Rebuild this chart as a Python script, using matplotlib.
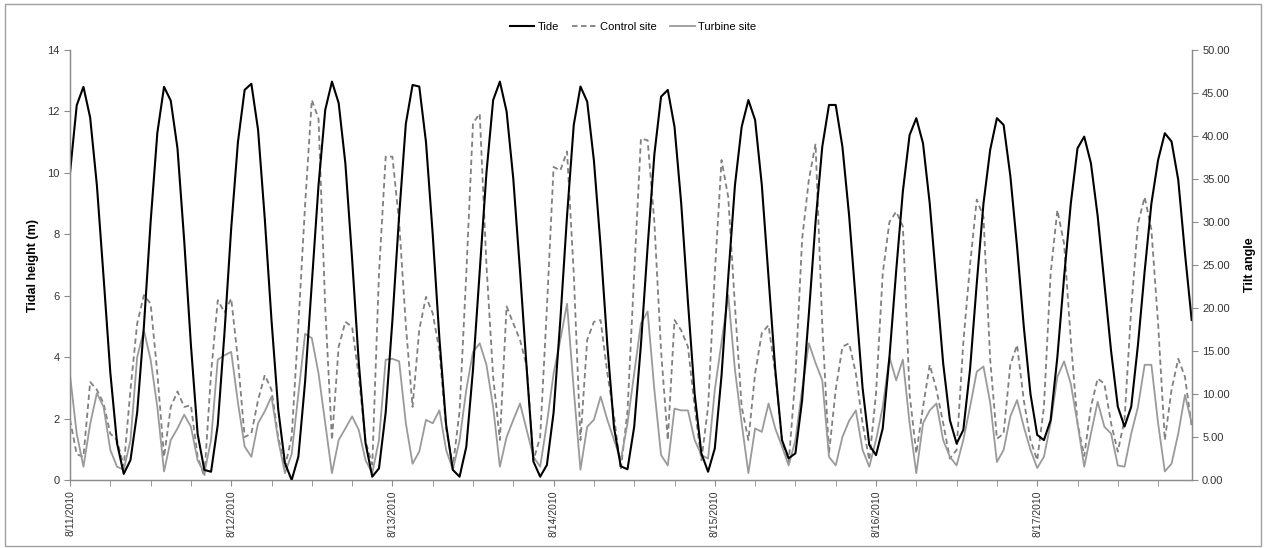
import matplotlib
matplotlib.use("Agg")
import matplotlib.pyplot as plt
from matplotlib.patches import Rectangle
import numpy as np

# hourly readings starting 8/11/2010 00:00
tide = [10.0, 12.2, 12.8, 11.8, 9.6, 6.6, 3.5, 1.2, 0.2, 0.65,
        2.2, 5.0, 8.4, 11.3, 12.8, 12.35, 10.8, 7.8, 4.4, 1.5,
        0.33, 0.27, 1.8, 4.8, 8.2, 11.0, 12.7, 12.9, 11.4, 8.5,
        5.2, 2.3, 0.55, 0.0, 0.76, 3.2, 6.4, 9.6, 12.05, 12.97,
        12.27, 10.3, 7.2, 3.8, 1.2, 0.11, 0.38, 2.2, 5.2, 8.6,
        11.6, 12.86, 12.81, 11.0, 8.0, 4.6, 1.8, 0.33, 0.11, 1.08,
        3.6, 6.8, 10.0, 12.37, 12.97, 12.0, 9.8, 6.8, 3.6, 0.6,
        0.11, 0.49, 2.2, 5.2, 8.6, 11.56, 12.81, 12.32, 10.4, 7.6,
        4.4, 1.7, 0.45, 0.35, 1.74, 4.4, 7.6, 10.6, 12.48, 12.7,
        11.5, 9.0, 5.8, 2.8, 0.87, 0.27, 1.03, 3.4, 6.6, 9.6,
        11.5, 12.37, 11.72, 9.6, 6.6, 3.6, 1.3, 0.71, 0.87, 2.6,
        5.4, 8.4, 10.85, 12.21, 12.21, 10.85, 8.6, 5.8, 3.0, 1.14,
        0.81, 1.68, 4.0, 6.8, 9.4, 11.23, 11.78, 10.96, 9.0, 6.4,
        3.8, 1.95, 1.19, 1.63, 3.6, 6.4, 9.0, 10.75, 11.78, 11.56,
        9.9, 7.6, 5.0, 2.8, 1.47, 1.30, 1.95, 4.0, 6.6, 9.0,
        10.8, 11.18, 10.31, 8.6, 6.4, 4.2, 2.39, 1.74, 2.39, 4.4,
        6.8, 9.0, 10.42, 11.29, 11.02, 9.77, 7.38, 5.21]

control = [7.0, 3.0, 2.7, 11.4, 10.5, 8.9, 5.4, 4.65, 1.55, 10.5,
           18.2, 21.5, 20.5, 12.4, 2.7, 8.5, 10.3, 8.5, 8.7, 2.7,
           0.4, 12.4, 20.9, 19.5, 21.1, 14.0, 5.0, 5.4, 9.3, 12.2,
           10.5, 5.0, 1.5, 5.0, 18.0, 32.0, 44.2, 42.0, 20.0, 4.65,
           15.5, 18.4, 17.8, 12.0, 4.5, 1.8, 24.0, 37.6, 37.6, 30.0,
           18.0, 8.5, 17.5, 21.3, 19.4, 15.0, 6.0, 1.55, 8.0, 24.0,
           41.5, 42.6, 25.0, 12.0, 4.65, 20.2, 18.2, 16.3, 13.2, 2.3,
           5.0, 20.0, 36.4, 36.0, 38.2, 24.0, 4.65, 16.3, 18.4, 18.6,
           12.4, 7.4, 1.2, 8.0, 24.0, 39.7, 39.5, 30.0, 15.0, 4.65,
           18.6, 17.4, 15.5, 8.5, 2.3, 8.5, 24.0, 37.2, 32.9, 20.2,
           8.5, 4.65, 12.4, 17.1, 18.0, 12.4, 4.65, 2.0, 12.0, 28.0,
           34.9, 39.1, 18.0, 3.1, 10.5, 15.5, 15.9, 12.4, 6.6, 2.3,
           10.0, 24.0, 30.0, 31.2, 29.5, 10.0, 3.1, 8.5, 13.4, 10.5,
           6.6, 2.5, 3.5, 16.0, 25.0, 32.6, 30.6, 14.0, 4.8, 5.4,
           13.4, 15.7, 9.3, 4.65, 2.3, 8.5, 24.0, 31.4, 27.5, 16.3,
           6.6, 2.8, 8.5, 11.8, 11.2, 6.6, 3.3, 7.0, 20.0, 29.8,
           32.9, 29.1, 18.2, 4.65, 10.5, 14.1, 12.0, 6.2]

turbine = [12.2, 5.4, 1.55, 6.5, 10.1, 8.5, 3.5, 1.55, 1.2, 4.6,
           14.3, 17.4, 14.0, 8.5, 1.0, 4.65, 6.0, 7.6, 6.2, 2.3,
           0.8, 4.65, 14.0, 14.5, 14.9, 9.0, 3.9, 2.7, 6.6, 8.0,
           9.7, 4.65, 0.8, 3.0, 10.0, 17.0, 16.5, 12.4, 6.6, 0.8,
           4.65, 6.0, 7.4, 5.8, 2.3, 0.8, 4.65, 14.0, 14.1, 13.8,
           6.6, 1.9, 3.3, 7.0, 6.6, 8.1, 3.5, 1.2, 4.6, 10.5,
           14.9, 15.9, 13.4, 8.5, 1.55, 5.0, 7.0, 8.9, 5.8, 2.7,
           1.55, 6.6, 12.4, 16.3, 20.5, 10.5, 1.2, 6.2, 7.0, 9.7,
           7.0, 4.65, 2.3, 6.6, 12.4, 18.2, 19.6, 10.5, 2.9, 1.7,
           8.3, 8.1, 8.1, 4.65, 2.9, 2.5, 10.5, 16.0, 21.5, 12.8,
           6.6, 0.8, 6.0, 5.6, 8.9, 6.0, 3.9, 1.7, 4.65, 10.5,
           15.9, 13.6, 11.6, 2.7, 1.7, 5.0, 6.9, 8.1, 3.5, 1.55,
           4.65, 8.5, 14.3, 11.6, 14.0, 6.6, 0.8, 6.6, 8.1, 8.9,
           4.65, 2.7, 1.7, 4.65, 8.5, 12.6, 13.2, 9.0, 2.1, 3.5,
           7.4, 9.3, 6.2, 3.5, 1.4, 2.7, 6.6, 12.0, 13.8, 11.2,
           6.6, 1.55, 5.4, 9.1, 6.2, 5.4, 1.7, 1.55, 5.4, 8.5,
           13.4, 13.4, 6.6, 1.0, 1.9, 5.4, 9.9, 6.6]

date_labels = ["8/11/2010", "8/12/2010", "8/13/2010", "8/14/2010",
               "8/15/2010", "8/16/2010", "8/17/2010"]

plt.rcParams['font.family'] = ['Liberation Sans', 'DejaVu Sans']

hours = np.arange(len(tide))

fig = plt.figure(figsize=(12.66, 5.48), dpi=100)
ax = fig.add_axes([0.0553, 0.124, 0.886, 0.7848])
ax2 = ax.twinx()

axis_grey = "#8c8c8c"

l_ctrl, = ax2.plot(hours, control, color="#808080", lw=1.3,
                   linestyle=(0, (3, 2)), label="Control site")
l_turb, = ax2.plot(hours, turbine, color="#9a9a9a", lw=1.3,
                   label="Turbine site")
ax.set_zorder(ax2.get_zorder() + 1)
ax.patch.set_visible(False)
l_tide, = ax.plot(hours, tide, color="black", lw=1.5, label="Tide")

ax.set_xlim(0, len(tide) - 1)
ax.set_ylim(0, 14)
ax.set_yticks(np.arange(0, 15, 2))
ax2.set_ylim(0, 50)
ax2.set_yticks(np.arange(0, 51, 5))
ax2.set_yticklabels([f"{v:.2f}" for v in np.arange(0, 51, 5)])

ax.set_xticks(np.arange(0, len(tide), 24))
ax.set_xticklabels(date_labels, rotation=90, fontsize=7.5, color="#333333")
ax.set_xticks(np.arange(0, len(tide), 6), minor=True)
ax.tick_params(axis="x", which="both", length=4, color=axis_grey, direction="out")

ax.tick_params(axis="y", labelsize=8, length=4, color=axis_grey, labelcolor="#333333")
ax2.tick_params(axis="y", labelsize=8, length=4, color=axis_grey, labelcolor="#333333")

for a in (ax, ax2):
    a.spines["top"].set_visible(False)
    for side in ("left", "right", "bottom"):
        a.spines[side].set_color(axis_grey)
        a.spines[side].set_linewidth(0.9)

ax.set_ylabel("Tidal height (m)", fontsize=9, fontweight="bold", labelpad=6)
ax2.set_ylabel("Tilt angle", fontsize=9, fontweight="bold", labelpad=10)

fig.legend(handles=[l_tide, l_ctrl, l_turb], loc="upper center",
           bbox_to_anchor=(0.5, 0.978), ncol=3, frameon=False,
           fontsize=8, handlelength=2.2, columnspacing=1.2, handletextpad=0.3)

fig.patches.append(Rectangle((0.004, 0.004), 0.992, 0.988, transform=fig.transFigure,
                             fill=False, edgecolor="#a0a0a0", lw=1.0))

fig.savefig("out.png", dpi=100)
